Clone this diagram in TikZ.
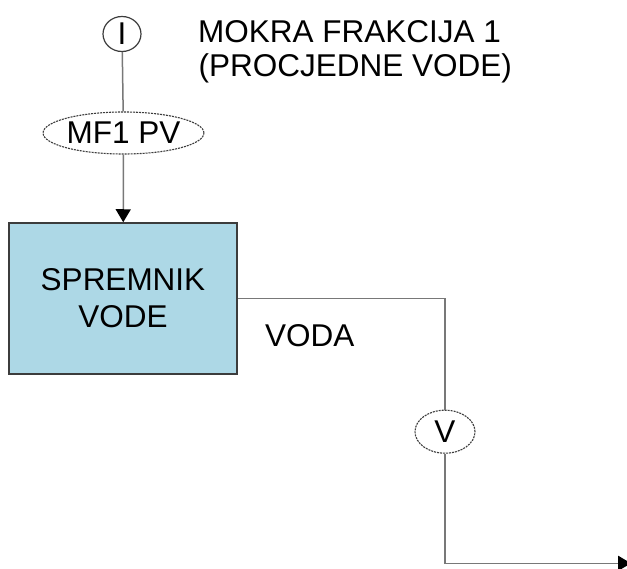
\documentclass[tikz,border=0pt]{standalone}
\usepackage{fontspec}
\setmainfont{Liberation Sans}
\usetikzlibrary{arrows.meta,shapes.geometric}
\definecolor{boxblue}{RGB}{173,216,230}
\definecolor{linegray}{RGB}{120,120,120}
\definecolor{edgegray}{RGB}{60,60,60}
\begin{document}
\begin{tikzpicture}[x=1pt,y=-1pt,
  every node/.style={font=\fontsize{31.5}{37}\selectfont},
  circ/.style={ellipse,draw=edgegray,line width=1.2pt,inner sep=0pt,minimum width=38pt,minimum height=35pt},
  dell/.style={ellipse,draw=edgegray,line width=1.1pt,dash pattern=on 2pt off 1pt,inner sep=0pt},
  tank/.style={rectangle,draw=edgegray,line width=1.5pt,fill=boxblue,align=center,inner sep=0pt,minimum width=228pt,minimum height=151pt},
  conn/.style={draw=linegray,line width=1.5pt},
  tip/.style={-{Triangle[length=13pt,width=15pt,black]}},
  lbl/.style={anchor=base west,inner sep=0pt}]
\useasboundingbox[fill=white] (0,0) rectangle (627,569);
\node[circ] (I) at (122,34) {I};
\node[dell,minimum width=157pt,minimum height=42pt] (mf) at (123.5,133) {MF1 PV};
\node[tank] (sp) at (123,298.5) {SPREMNIK\\VODE};
\node[dell,minimum width=60pt,minimum height=43pt] (V) at (445,431.7) {V};
\node[lbl] (mk1) at (198,43) {MOKRA FRAKCIJA 1};
\node[lbl] (mk2) at (198.5,77) {(PROCJEDNE VODE)};
\node[lbl] (voda) at (265,346.7) {VODA};
\coordinate (out) at (631,563.3);
\draw[conn] (I) -- (mf);
\draw[conn,tip] (mf) -- (sp);
\draw[conn] (sp.east) -| (V.north);
\draw[conn,tip] (V.south) |- (out);
\end{tikzpicture}
\end{document}
